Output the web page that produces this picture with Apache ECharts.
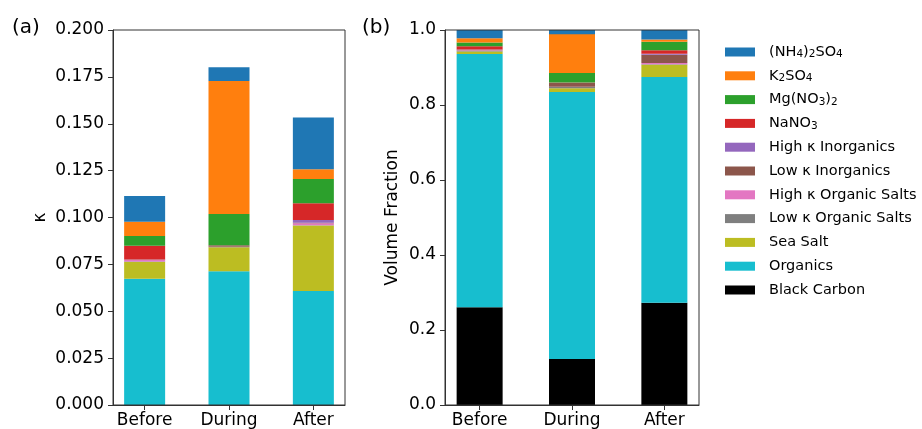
<!DOCTYPE html>
<html>
<head>
<meta charset="utf-8">
<script src="https://cdn.jsdelivr.net/npm/echarts@6/dist/echarts.min.js"></script>
<style>
html,body{margin:0;padding:0;background:#fff;}
#chart{width:922px;height:429px;}
</style>
</head>
<body>
<div id="chart"></div>
<script>
// ---- data ----
const categories = ['Before', 'During', 'After'];
const componentNames = [
  'Black Carbon', 'Organics', 'Sea Salt', 'Low κ Organic Salts', 'High κ Organic Salts',
  'Low κ Inorganics', 'High κ Inorganics', 'NaNO₃', 'Mg(NO₃)₂', 'K₂SO₄', '(NH₄)₂SO₄'
];
// legend rich-text versions of the chemical names (subscripts)
const legendLabels = {
  'NaNO₃': 'NaNO{s|3}',
  'Mg(NO₃)₂': 'Mg(NO{s|3}){s|2}',
  'K₂SO₄': 'K{s|2}SO{s|4}',
  '(NH₄)₂SO₄': '(NH{s|4}){s|2}SO{s|4}'
};
const componentColors = [
  '#000000', '#17becf', '#bcbd22', '#7f7f7f', '#e377c2',
  '#8c564b', '#9467bd', '#d62728', '#2ca02c', '#ff7f0e', '#1f77b4'
];
// kappa contributions (panel a), per component: [Before, During, After]
const kappaBlackCarbon   = [0.0000, 0.0000, 0.0000];
const kappaOrganics      = [0.0674, 0.0713, 0.0608];
const kappaSeaSalt       = [0.0089, 0.0128, 0.0350];
const kappaLowOrgSalts   = [0.0002, 0.0002, 0.0001];
const kappaHighOrgSalts  = [0.0008, 0.0001, 0.0010];
const kappaLowInorg      = [0.0002, 0.0008, 0.0003];
const kappaHighInorg     = [0.0001, 0.0000, 0.0015];
const kappaNaNO3         = [0.0074, 0.0000, 0.0089];
const kappaMgNO3         = [0.0051, 0.0167, 0.0129];
const kappaK2SO4         = [0.0077, 0.0709, 0.0052];
const kappaNH4SO4        = [0.0137, 0.0073, 0.0277];
// volume fractions (panel b)
const vfBlackCarbon   = [0.2605, 0.1227, 0.2729];
const vfOrganics      = [0.6755, 0.7120, 0.6021];
const vfSeaSalt       = [0.0070, 0.0098, 0.0325];
const vfLowOrgSalts   = [0.0020, 0.0035, 0.0010];
const vfHighOrgSalts  = [0.0010, 0.0005, 0.0035];
const vfLowInorg      = [0.0015, 0.0110, 0.0220];
const vfHighInorg     = [0.0002, 0.0000, 0.0030];
const vfNaNO3         = [0.0093, 0.0005, 0.0090];
const vfMgNO3         = [0.0100, 0.0253, 0.0230];
const vfK2SO4         = [0.0110, 0.1037, 0.0060];
const vfNH4SO4        = [0.0220, 0.0110, 0.0250];

const kappaSets = [kappaBlackCarbon, kappaOrganics, kappaSeaSalt, kappaLowOrgSalts, kappaHighOrgSalts,
  kappaLowInorg, kappaHighInorg, kappaNaNO3, kappaMgNO3, kappaK2SO4, kappaNH4SO4];
const vfSets = [vfBlackCarbon, vfOrganics, vfSeaSalt, vfLowOrgSalts, vfHighOrgSalts,
  vfLowInorg, vfHighInorg, vfNaNO3, vfMgNO3, vfK2SO4, vfNH4SO4];

const FONT = 'DejaVu Sans';
const AX = '#333';
const TOP = 30, HEIGHT = 375;
const frames = [{left: 113, width: 232}, {left: 445, width: 254}];
// x range of the frames in category units (matplotlib-style margins)
const XMIN = -0.375, XMAX = 2.375;

function barGridFor(f) {
  const unit = f.width / (XMAX - XMIN);
  return {left: f.left + (-XMIN - 0.5) * unit, top: TOP, width: 3 * unit, height: HEIGHT, show: false};
}

function frameXAxis(gridIndex) {
  return {
    type: 'value', gridIndex: gridIndex, min: XMIN, max: XMAX,
    splitLine: {show: false},
    axisLine: {show: true, onZero: false, lineStyle: {color: AX, width: 1}},
    axisTick: {show: true, length: 5, customValues: [0, 1, 2], lineStyle: {color: AX}},
    axisLabel: {
      customValues: [0, 1, 2], margin: 7,
      formatter: v => categories[Math.round(v)],
      fontFamily: FONT, fontSize: 17, color: '#000'
    }
  };
}
function frameYAxis(gridIndex, max, interval, digits, name, gap) {
  return {
    type: 'value', gridIndex: gridIndex, min: 0, max: max, interval: interval,
    name: name, nameLocation: 'middle', nameGap: gap,
    nameTextStyle: {fontFamily: FONT, fontSize: 17, color: '#000'},
    splitLine: {show: false},
    axisLine: {show: true, onZero: false, lineStyle: {color: AX, width: 1}},
    axisTick: {show: true, length: 5, lineStyle: {color: AX}},
    axisLabel: {formatter: v => v.toFixed(digits), margin: 9, fontFamily: FONT, fontSize: 17, color: '#000'}
  };
}
function barXAxis(gridIndex) {
  return {type: 'category', gridIndex: gridIndex, data: categories, show: false, boundaryGap: true};
}
function barYAxis(gridIndex, max) {
  return {type: 'value', gridIndex: gridIndex, min: 0, max: max, show: false, splitLine: {show: false}};
}

const series = [];
componentNames.forEach((name, i) => {
  series.push({
    name: name, type: 'bar', xAxisIndex: 2, yAxisIndex: 2, stack: 'kappa',
    barWidth: 41, itemStyle: {color: componentColors[i]},
    data: kappaSets[i]
  });
  series.push({
    name: name, type: 'bar', xAxisIndex: 3, yAxisIndex: 3, stack: 'vf',
    barWidth: 46, itemStyle: {color: componentColors[i]},
    data: vfSets[i]
  });
});

const chart = echarts.init(document.getElementById('chart'), null, {renderer: 'canvas'});
chart.setOption({
  animation: false,
  backgroundColor: '#fff',
  textStyle: {fontFamily: FONT},
  grid: [
    {left: frames[0].left, top: TOP, width: frames[0].width, height: HEIGHT, show: true, borderColor: AX, borderWidth: 1, backgroundColor: 'transparent', z: 5},
    {left: frames[1].left, top: TOP, width: frames[1].width, height: HEIGHT, show: true, borderColor: AX, borderWidth: 1, backgroundColor: 'transparent', z: 5},
    barGridFor(frames[0]),
    barGridFor(frames[1])
  ],
  xAxis: [frameXAxis(0), frameXAxis(1), barXAxis(2), barXAxis(3)],
  yAxis: [
    frameYAxis(0, 0.2, 0.025, 3, 'κ', 64),
    frameYAxis(1, 1.0, 0.2, 1, 'Volume Fraction', 44),
    barYAxis(2, 0.2),
    barYAxis(3, 1.0)
  ],
  legend: {
    orient: 'vertical', left: 720, top: 39,
    itemWidth: 30, itemHeight: 9, itemGap: 7.8,
    icon: 'rect',
    data: componentNames.slice().reverse(),
    formatter: name => legendLabels[name] || name,
    textStyle: {
      fontFamily: FONT, fontSize: 14.5, color: '#000', padding: [0, 0, 0, 9], lineHeight: 16,
      rich: {s: {fontFamily: FONT, fontSize: 10.5, color: '#000', lineHeight: 16, verticalAlign: 'bottom', padding: [4, 0, 0, 0]}}
    },
    selectedMode: false
  },
  graphic: [
    {type: 'text', left: 12, top: 18, style: {text: '(a)', font: '20px "DejaVu Sans"', fill: '#000'}},
    {type: 'text', left: 362, top: 18, style: {text: '(b)', font: '20px "DejaVu Sans"', fill: '#000'}}
  ],
  series: series
});
</script>
</body>
</html>
